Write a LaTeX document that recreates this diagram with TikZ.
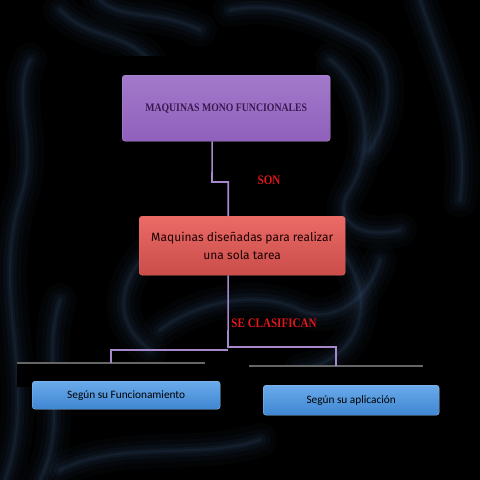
\documentclass[tikz,border=0pt]{standalone}
\usepackage{fontspec}
\setmainfont{Liberation Serif}
\newfontfamily\calib{Carlito}
\newfontfamily\comicf{Fira Sans}
\usetikzlibrary{calc}
\definecolor{smoke}{HTML}{4A6A9A}
\definecolor{purp}{HTML}{9060BC}
\definecolor{purpl}{HTML}{A27ACA}
\definecolor{purpt}{HTML}{3A1850}
\definecolor{redb}{HTML}{E05652}
\definecolor{redl}{HTML}{EA6A66}
\definecolor{bluel}{HTML}{6AAAEA}
\definecolor{blueb}{HTML}{3F86D2}
\definecolor{connc}{HTML}{A888CC}
\definecolor{labred}{HTML}{E0161A}
\tikzset{
  wisp/.style={draw=smoke, line cap=round},
  boxbase/.style={rounded corners=3pt, inner sep=0pt, anchor=north west},
  purpbox/.style={boxbase, top color=purpl, bottom color=purp, draw=purpl!80!white},
  redbox/.style={boxbase, top color=redl, bottom color=redb!90!black, draw=redl},
  bluebox/.style={boxbase, top color=bluel, bottom color=blueb, draw=bluel!70!white},
  shadowbox/.style={fill=black, draw=none, inner sep=0pt, anchor=north west},
  topedge/.style={draw=black!60!white, line width=1.2pt},
  conn/.style={draw=connc, line width=1.6pt},
  lab/.style={text=labred, font=\bfseries\fontsize{13}{14}\selectfont}
}
\begin{document}
\begin{tikzpicture}[x=1pt,y=-1pt]
\useasboundingbox (0,0) rectangle (480,480);
\fill[black] (0,0) rectangle (480,480);
% smoke wisps
\foreach \w/\o in {34/0.04,22/0.05,13/0.065,6/0.085,2/0.11}{
  \draw[wisp, line width=\w pt, opacity=\o] (5,480) .. controls (40,380) and (-10,300) .. (20,200) .. controls (40,140) and (10,100) .. (30,60);
  \draw[wisp, line width=\w pt, opacity=\o] (40,480) .. controls (70,420) and (40,360) .. (60,300);
  \draw[wisp, line width=\w pt, opacity=\o] (60,10) .. controls (90,40) and (120,30) .. (150,60);
  \draw[wisp, line width=\w pt, opacity=\o] (100,0) .. controls (120,20) and (160,10) .. (200,30);
  \draw[wisp, line width=\w pt, opacity=\o] (230,10) .. controls (280,0) and (320,20) .. (360,40) .. controls (400,60) and (390,120) .. (370,150);
  \draw[wisp, line width=\w pt, opacity=\o] (330,60) .. controls (360,80) and (380,140) .. (350,190) .. controls (330,220) and (360,240) .. (400,230);
  \draw[wisp, line width=\w pt, opacity=\o] (160,330) .. controls (200,300) and (260,290) .. (300,310) .. controls (330,325) and (370,300) .. (380,260);
  \draw[wisp, line width=\w pt, opacity=\o] (150,250) .. controls (120,280) and (110,320) .. (150,350);
  \draw[wisp, line width=\w pt, opacity=\o] (340,250) .. controls (380,300) and (360,360) .. (300,370);
  \draw[wisp, line width=\w pt, opacity=\o] (60,470) .. controls (120,440) and (200,460) .. (260,440);
  \draw[wisp, line width=\w pt, opacity=\o] (420,0) .. controls (440,60) and (470,120) .. (460,200);
}
% top box
\node[shadowbox, minimum width=208pt, minimum height=40pt] (sh1) at (108,56) {};
\node[purpbox, minimum width=208pt, minimum height=66pt] (top) at (122,75) {};
\node[text=purpt, font=\bfseries\fontsize{11.5}{12}\selectfont, xscale=0.85] (toptext) at (top.center) {MAQUINAS MONO FUNCIONALES};
% red box
\node[redbox, minimum width=206pt, minimum height=59pt] (red) at (139,216) {};
\node[text=black!90!red, font=\comicf\fontsize{12}{18}\selectfont, align=center] (redtext) at (red.center) {Maquinas diseñadas para realizar\\una sola tarea};
% black bars behind blue boxes
\node[shadowbox, minimum width=188pt, minimum height=24pt] (sh2) at (17,363) {};
\draw[topedge] (sh2.north west) -- (sh2.north east);
\node[shadowbox, minimum width=174pt, minimum height=28pt] (sh3) at (249,366) {};
\draw[topedge] (sh3.north west) -- (sh3.north east);
% blue boxes
\node[bluebox, minimum width=188pt, minimum height=28pt] (b1) at (32,381) {};
\node[font=\calib\fontsize{11.3}{12}\selectfont] (b1text) at (b1.center) {Según su Funcionamiento};
\node[bluebox, minimum width=176pt, minimum height=30pt] (b2) at (263,385) {};
\node[font=\calib\fontsize{11.3}{12}\selectfont] (b2text) at (b2.center) {Según su aplicación};
% connectors
\coordinate (j1) at (212,182);
\coordinate (j2) at (228,348);
\draw[conn] ([xshift=-14]top.south) -- (j1) -| ([xshift=-14]red.north);
\draw[conn] ([xshift=-14]red.south) -- (j2);
\draw[conn] ([yshift=-2]j2) -| (sh2.north);
\draw[conn] ([yshift=1]j2) -| (sh3.north);
% labels
\node[lab, xscale=0.85] (son) at (269,180) {SON};
\node[lab, xscale=0.85] (secl) at (274,323) {SE CLASIFICAN};
\end{tikzpicture}
\end{document}
